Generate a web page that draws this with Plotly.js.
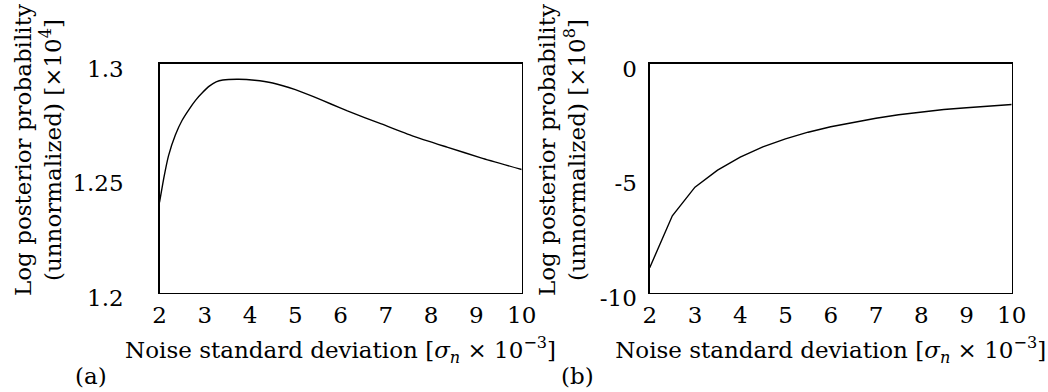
<!DOCTYPE html>
<html>
<head>
<meta charset="utf-8">
<script src="https://cdn.plot.ly/plotly-3.0.1.min.js"></script>
<style>html,body{margin:0;padding:0;background:#fff;}#chart{width:1048px;height:392px;}</style>
</head>
<body>
<div id="chart"></div>
<script>
// Panel (a): log posterior vs noise std (x10^4)
const sigmaA = [2, 2.1, 2.2, 2.35, 2.5, 2.65, 2.8, 2.95, 3.1, 3.25, 3.4, 3.75, 4.1, 4.5, 5.0, 5.4, 5.8, 6.15, 6.9, 7.6, 8.35, 9.1, 10];
const logPostA = [1.2393, 1.2505, 1.2598, 1.2688, 1.2752, 1.2799, 1.2840, 1.2873, 1.2901, 1.2920, 1.2928, 1.2931, 1.2927, 1.2915, 1.2886, 1.2855, 1.2822, 1.2793, 1.2736, 1.2683, 1.2635, 1.2588, 1.2537];
// Panel (b): log posterior vs noise std (x10^8)
const sigmaB = [2, 2.5, 3, 3.5, 4, 4.5, 5, 5.5, 6, 6.5, 7, 7.5, 8, 8.5, 9, 9.5, 10];
const logPostB = [-8.92, -6.65, -5.40, -4.66, -4.09, -3.64, -3.29, -3.00, -2.76, -2.56, -2.39, -2.24, -2.11, -2.01, -1.93, -1.86, -1.79];

const xTicks = [2, 3, 4, 5, 6, 7, 8, 9, 10];
const yTicksA = [1.2, 1.25, 1.3];
const yTickTextA = ['1.2', '1.25', '1.3'];
const yTicksB = [-10, -5, 0];
const yTickTextB = ['-10', '-5', '0'];

const xTitle = 'Noise standard deviation [<i>σ</i><sub><i>n</i></sub> × 10<sup>−3</sup>]';
const yTitleA = 'Log posterior probability<br>(unnormalized) [×10<sup>4</sup>]';
const yTitleB = 'Log posterior probability<br>(unnormalized) [×10<sup>8</sup>]';

const FONT = 'DejaVu Serif';
const FS = 23;
const W = 1048, H = 392;
const px = v => v / W, py = v => 1 - v / H;

const traces = [
  {x: sigmaA, y: logPostA, type: 'scatter', mode: 'lines', xaxis: 'x', yaxis: 'y',
   line: {color: '#000', width: 1.4, shape: 'spline', smoothing: 0.5}, hoverinfo: 'skip'},
  {x: sigmaB, y: logPostB, type: 'scatter', mode: 'lines', xaxis: 'x2', yaxis: 'y2',
   line: {color: '#000', width: 1.4}, hoverinfo: 'skip'}
];

const axBase = {
  showgrid: false, zeroline: false, showline: true, mirror: true,
  linecolor: '#000', linewidth: 1.3, ticks: '',
  tickfont: {family: FONT, size: FS, color: '#000'}
};

const layout = {
  width: W, height: H,
  margin: {l: 0, r: 0, t: 0, b: 0},
  paper_bgcolor: '#fff', plot_bgcolor: '#fff',
  showlegend: false,
  font: {family: FONT, color: '#000'},
  xaxis: Object.assign({}, axBase, {
    domain: [px(159.5), px(521.7)], range: [2, 10], tickvals: xTicks, anchor: 'y',
    ticklabelstandoff: 2,
    title: {text: xTitle, font: {family: FONT, size: FS, color: '#000'}, standoff: 14}
  }),
  yaxis: Object.assign({}, axBase, {
    domain: [py(292.5), py(63.5)], range: [1.2, 1.3], tickvals: yTicksA, ticktext: yTickTextA, anchor: 'x',
    ticklabelstandoff: 30, ticklabelshift: 5
  }),
  xaxis2: Object.assign({}, axBase, {
    domain: [px(649.7), px(1011.7)], range: [2, 10], tickvals: xTicks, anchor: 'y2',
    ticklabelstandoff: 2,
    title: {text: xTitle, font: {family: FONT, size: FS, color: '#000'}, standoff: 14}
  }),
  yaxis2: Object.assign({}, axBase, {
    domain: [py(292.5), py(63.5)], range: [-10, 0], tickvals: yTicksB, ticktext: yTickTextB, anchor: 'x2',
    ticklabelstandoff: 7, ticklabelshift: 5
  }),
  annotations: [
    {text: yTitleA, xref: 'paper', yref: 'paper', x: px(38), y: py(150), xanchor: 'center', yanchor: 'middle',
     textangle: -90, showarrow: false, font: {family: FONT, size: FS, color: '#000'}},
    {text: yTitleB, xref: 'paper', yref: 'paper', x: px(562), y: py(150), xanchor: 'center', yanchor: 'middle',
     textangle: -90, showarrow: false, font: {family: FONT, size: FS, color: '#000'}},
    {text: '(a)', xref: 'paper', yref: 'paper', x: px(91), y: py(376), xanchor: 'center', yanchor: 'middle',
     showarrow: false, font: {family: FONT, size: FS, color: '#000'}},
    {text: '(b)', xref: 'paper', yref: 'paper', x: px(577), y: py(376), xanchor: 'center', yanchor: 'middle',
     showarrow: false, font: {family: FONT, size: FS, color: '#000'}}
  ]
};

Plotly.newPlot('chart', traces, layout, {staticPlot: true, displayModeBar: false});
</script>
</body>
</html>
